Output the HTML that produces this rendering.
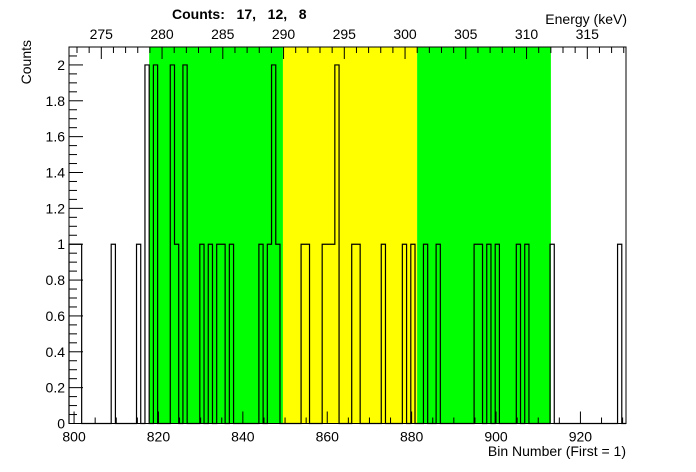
<!DOCTYPE html>
<html><head><meta charset="utf-8"><style>
body{margin:0;background:#fff}
svg{display:block;font-family:"Liberation Sans",sans-serif}
</style></head><body>
<svg id="c" width="696" height="472" viewBox="0 0 696 472">
<text x="172" y="19" font-size="14" font-weight="bold" xml:space="preserve">Counts:   17,   12,   8</text>
<text x="627" y="24" font-size="14" text-anchor="end">Energy (keV)</text>
<text x="0" y="0" font-size="14" text-anchor="end" transform="translate(31,40) rotate(-90)">Counts</text>
<text x="626" y="456" font-size="14" text-anchor="end">Bin Number (First = 1)</text>
</svg>
<script>
const counts = [
1,1,1,0,0,0,0,0,0,0,
1,0,0,0,0,0,1,0,2,0,
2,0,0,0,2,1,0,2,0,0,
0,1,0,1,0,1,1,0,1,0,
0,0,0,0,0,1,0,1,2,1,
0,0,0,0,0,1,1,0,0,0,
1,1,1,2,0,0,0,1,1,0,
0,0,0,0,1,0,0,0,0,1,
0,1,0,0,1,0,0,1,0,0,
0,0,0,0,0,0,1,1,0,1,
0,1,0,0,0,0,1,0,1,0,
0,0,0,0,1,0,0,0,0,0,
0,0,0,0,0,0,0,0,0,0,
1,0];
const regionStarts = [817.8, 849.5, 881.3];
const regionEnds = [849.5, 881.3, 913.0];
const regionColors = ["#00ff00", "#ffff00", "#00ff00"];
const xTickLabels = [800, 820, 840, 860, 880, 900, 920];
const yTickLabels = ["0","0.2","0.4","0.6","0.8","1","1.2","1.4","1.6","1.8","2"];
const eTickLabels = [275, 280, 285, 290, 295, 300, 305, 310, 315];

const NS = "http://www.w3.org/2000/svg";
const svg = document.getElementById('c');
const L = 69, R = 626, T = 47, B = 423.5;
const xMin = 798.8, xMax = xMin + counts.length, yMax = 2.1;
const eMin = 275 - (101.3 - L) / 12.15, eMax = eMin + (R - L) / 12.15;
const x = v => L + (v - xMin) / (xMax - xMin) * (R - L);
const y = v => B - v / yMax * (B - T);
const ex = e => L + (e - eMin) / (eMax - eMin) * (R - L);
function mk(tag, attrs) { const e = document.createElementNS(NS, tag); for (const k in attrs) e.setAttribute(k, attrs[k]); svg.appendChild(e); return e; }

regionStarts.forEach((s, i) => {
  const r = mk('rect', {x: x(s), y: T, width: x(regionEnds[i]) - x(s), height: B - T, fill: regionColors[i]});
  
  
});

let d = 'M' + x(xMin) + ' ' + y(0);
counts.forEach((c, i) => { d += ' L' + x(xMin + i) + ' ' + y(c) + ' L' + x(xMin + i + 1) + ' ' + y(c); });
d += ' L' + x(xMax) + ' ' + y(0);
const hp = mk('path', {d: d, fill: 'none', stroke: '#000', 'stroke-width': 1.2});



const fr = mk('rect', {x: L, y: T, width: R - L, height: B - T, fill: 'none', stroke: '#000', 'stroke-width': 1});



// bottom axis
for (let v = 800; v <= 930; v += 5) {
  const len = v % 20 === 0 ? 12 : 6;
  const t = mk('line', {x1: x(v), x2: x(v), y1: B, y2: B - len, stroke: '#000'});
  
  
}
xTickLabels.forEach(v => {
  const t = mk('text', {x: x(v), y: B + 18, 'font-size': 14, 'text-anchor': 'middle'});
  t.textContent = v;
  
  
});
// y axis
for (let i = 0; i <= 42; i++) {
  const v = i * 0.05;
  const len = i % 4 === 0 ? 14 : 8;
  const t = mk('line', {x1: L, x2: L + len, y1: y(v), y2: y(v), stroke: '#000'});
  
  
}
yTickLabels.forEach((s, i) => {
  const t = mk('text', {x: L - 4, y: y(i * 0.2) + 5, 'font-size': 14, 'text-anchor': 'end'});
  t.textContent = s;
  
  
});
// top energy axis
for (let e = Math.ceil(eMin); e <= eMax; e++) {
  const len = e % 5 === 0 ? 12 : 6;
  const t = mk('line', {x1: ex(e), x2: ex(e), y1: T, y2: T + len, stroke: '#000'});
  
  
}
eTickLabels.forEach(e => {
  const t = mk('text', {x: ex(e), y: T - 8, 'font-size': 14, 'text-anchor': 'middle'});
  t.textContent = e;
  
  
});
</script>
</body></html>
